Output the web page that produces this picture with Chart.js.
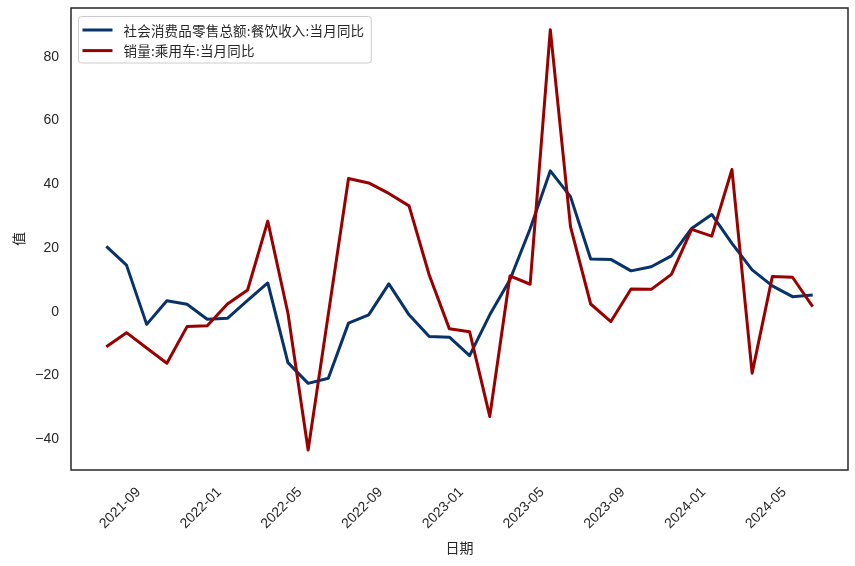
<!DOCTYPE html>
<html>
<head>
<meta charset="utf-8">
<script src="https://cdn.jsdelivr.net/npm/chart.js@4/dist/chart.umd.min.js"></script>
<style>
  html, body { margin: 0; padding: 0; background: #fff; }
  #wrap { width: 855px; height: 566px; }
</style>
</head>
<body>
<div id="wrap"><canvas id="chart" width="855" height="566"></canvas></div>
<script>
// monthly observations
const months = [
  '2021-08', '2021-09', '2021-10', '2021-11', '2021-12',
  '2022-01', '2022-02', '2022-03', '2022-04', '2022-05', '2022-06',
  '2022-07', '2022-08', '2022-09', '2022-10', '2022-11', '2022-12',
  '2023-01', '2023-02', '2023-03', '2023-04', '2023-05', '2023-06',
  '2023-07', '2023-08', '2023-09', '2023-10', '2023-11', '2023-12',
  '2024-01', '2024-02', '2024-03', '2024-04', '2024-05', '2024-06', '2024-07'
];
// 社会消费品零售总额:餐饮收入:当月同比
const cateringYoY = [
  20.5, 14.6, -4.0, 3.4, 2.3, -2.4, -2.1, 3.5, 9.0, -16.0,
  -22.5, -20.9, -3.6, -1.0, 8.7, -1.0, -7.8, -8.0, -13.8, -1.0,
  10.0, 26.0, 44.2, 36.1, 16.5, 16.4, 12.8, 14.1, 17.5, 26.1,
  30.5, 21.4, 13.1, 8.1, 4.7, 5.2
];
// 销量:乘用车:当月同比
const carSalesYoY = [
  -11.0, -6.6, -11.4, -16.2, -4.7, -4.4, 2.4, 6.8, 28.4, -0.5,
  -43.4, -0.8, 41.8, 40.4, 37.1, 33.2, 11.5, -5.4, -6.3, -32.9,
  11.2, 8.6, 88.5, 26.7, 2.4, -3.1, 7.1, 7.0, 11.7, 25.8,
  23.7, 44.6, -19.3, 11.0, 10.8, 1.6
];
const xTickLabels = ['2021-09', '2022-01', '2022-05', '2022-09', '2023-01', '2023-05', '2023-09', '2024-01', '2024-05'];
const yTickValues = [-40, -20, 0, 20, 40, 60, 80];

const seriesNames = ['社会消费品零售总额:餐饮收入:当月同比', '销量:乘用车:当月同比'];

// month string -> continuous month number
function monthNum(s) {
  const [y, m] = s.split('-').map(Number);
  return y * 12 + (m - 1);
}
const DAY_FRAC = 0.3; // observations sit a bit into the month

const toPoints = vals => vals.map((v, i) => ({ x: monthNum(months[i]) + DAY_FRAC, y: v }));

const xFirst = monthNum(months[0]) + DAY_FRAC;
const xLast = monthNum(months[months.length - 1]) + DAY_FRAC;
const xPad = (xLast - xFirst) * 0.05;

const TEXT = '#262626';
const tickFont = { family: '"Liberation Sans", Arial, sans-serif', size: 14 };
const cjkFont = { family: '"Noto Sans CJK SC", sans-serif', size: 14 };

// frame around plot area
const frame = {
  id: 'frame',
  afterDraw(chart) {
    const { ctx, chartArea: a } = chart;
    ctx.save();
    ctx.strokeStyle = TEXT;
    ctx.lineWidth = 1.5;
    ctx.strokeRect(a.left, a.top, a.right - a.left, a.bottom - a.top);
    ctx.restore();
  }
};

// legend drawn inside the plot, upper left
const innerLegend = {
  id: 'innerLegend',
  afterDatasetsDraw(chart) {
    const { ctx, chartArea: a } = chart;
    const sets = chart.data.datasets.slice();
    ctx.save();
    ctx.font = '13.5px "Noto Sans CJK SC", sans-serif';
    ctx.letterSpacing = '0.2px';
    let tw = 0;
    sets.forEach(ds => { tw = Math.max(tw, ctx.measureText(ds.label).width); });
    const x = a.left + 7.5, y = a.top + 8.5;
    const w = 45 + tw + 7, h = 46.5;
    ctx.beginPath();
    ctx.roundRect(x, y, w, h, 3);
    ctx.fillStyle = 'rgba(255,255,255,0.8)';
    ctx.fill();
    ctx.strokeStyle = '#cccccc';
    ctx.lineWidth = 1;
    ctx.stroke();
    sets.forEach((ds, i) => {
      const ly = y + 13.5 + i * 20.6;
      ctx.beginPath();
      ctx.moveTo(x + 4, ly);
      ctx.lineTo(x + 34, ly);
      ctx.strokeStyle = ds.borderColor;
      ctx.lineWidth = 3;
      ctx.stroke();
      ctx.fillStyle = TEXT;
      ctx.textBaseline = 'middle';
      ctx.fillText(ds.label, x + 45, ly + 0.5);
    });
    ctx.restore();
  }
};

new Chart(document.getElementById('chart'), {
  type: 'line',
  data: {
    datasets: [
      {
        label: seriesNames[0],
        data: toPoints(cateringYoY),
        borderColor: '#07326a',
        borderWidth: 3,
        pointRadius: 0,
        tension: 0,
        borderJoinStyle: 'round',
        order: 1
      },
      {
        label: seriesNames[1],
        data: toPoints(carSalesYoY),
        borderColor: '#990000',
        borderWidth: 3,
        pointRadius: 0,
        tension: 0,
        borderJoinStyle: 'round',
        order: 0
      }
    ]
  },
  options: {
    responsive: false,
    animation: false,
    devicePixelRatio: 1,
    layout: { padding: { left: 0, top: 8, right: 7, bottom: 6 } },
    plugins: { legend: { display: false }, tooltip: { enabled: false } },
    scales: {
      x: {
        type: 'linear',
        min: xFirst - xPad,
        max: xLast + xPad,
        afterBuildTicks: s => { s.ticks = xTickLabels.map(t => ({ value: monthNum(t) })); },
        afterFit: s => { s.height = 90; s.paddingLeft = 0; s.paddingRight = 0; },
        grid: { display: false, drawTicks: false },
        border: { display: false },
        ticks: {
          autoSkip: false,
          minRotation: 45,
          maxRotation: 45,
          labelOffset: 18,
          padding: 14,
          color: TEXT,
          font: tickFont,
          callback: (v, i) => xTickLabels[i]
        },
        title: { display: true, text: '日期', color: TEXT, font: cjkFont, padding: { top: 4, bottom: 4 } }
      },
      y: {
        min: -49.7,
        max: 95.3,
        afterBuildTicks: s => { s.ticks = yTickValues.map(v => ({ value: v })); },
        afterFit: s => { s.width = 71; s.paddingTop = 0; s.paddingBottom = 0; },
        grid: { display: false, drawTicks: false },
        border: { display: false },
        ticks: {
          padding: 12,
          color: TEXT,
          font: tickFont,
          callback: v => String(v).replace('-', '\u2212')
        },
        title: { display: true, text: '值', color: TEXT, font: cjkFont, padding: { top: 10, bottom: 4 } }
      }
    }
  },
  plugins: [innerLegend, frame]
});
</script>
</body>
</html>
